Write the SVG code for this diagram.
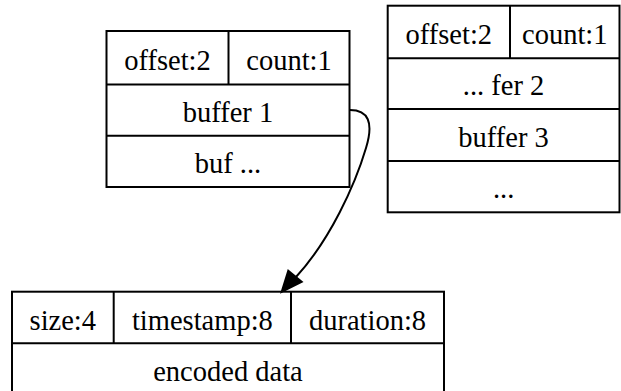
<svg xmlns="http://www.w3.org/2000/svg" width="621" height="391" viewBox="0 0 621 391">
<style>
.box{fill:#fff;stroke:#000;stroke-width:2}
.ln{stroke:#000;stroke-width:2;fill:none}
</style>
<rect width="621" height="391" fill="#fff"/>
<g id="node1">
<rect class="box" x="106.5" y="31" width="243" height="156"/>
<line class="ln" x1="106.5" y1="84.5" x2="349.5" y2="84.5"/>
<line class="ln" x1="106.5" y1="135.7" x2="349.5" y2="135.7"/>
<line class="ln" x1="228.5" y1="31" x2="228.5" y2="84.5"/>
<g font-family="Liberation Serif, Times New Roman, serif" font-size="28.5" fill="#000" text-anchor="middle">
<text x="167.5" y="69.8">offset:2</text>
<text x="289" y="69.8">count:1</text>
<text x="228" y="121.6">buffer 1</text>
<text x="228" y="172.8">buf ...</text>
</g>
</g>
<g id="node2">
<rect class="box" x="387.7" y="5.7" width="231.8" height="206.6"/>
<line class="ln" x1="387.7" y1="58.3" x2="619.5" y2="58.3"/>
<line class="ln" x1="387.7" y1="109" x2="619.5" y2="109"/>
<line class="ln" x1="387.7" y1="161" x2="619.5" y2="161"/>
<line class="ln" x1="510" y1="5.7" x2="510" y2="58.3"/>
<g font-family="Liberation Serif, Times New Roman, serif" font-size="28.5" fill="#000" text-anchor="middle">
<text x="448.8" y="43.5">offset:2</text>
<text x="564.8" y="43.5">count:1</text>
<text x="503.6" y="95">... fer 2</text>
<text x="503.6" y="146.5">buffer 3</text>
<text x="503.6" y="198">...</text>
</g>
</g>
<g id="node3">
<rect class="box" x="12" y="291.7" width="432" height="104"/>
<line class="ln" x1="12" y1="343.3" x2="444" y2="343.3"/>
<line class="ln" x1="113.7" y1="291.7" x2="113.7" y2="343.3"/>
<line class="ln" x1="291" y1="291.7" x2="291" y2="343.3"/>
<g font-family="Liberation Serif, Times New Roman, serif" font-size="28.5" fill="#000" text-anchor="middle">
<text x="62.8" y="330">size:4</text>
<text x="202.4" y="330">timestamp:8</text>
<text x="367.5" y="330">duration:8</text>
<text x="228" y="380.5">encoded data</text>
</g>
</g>
<g id="edges">
<path class="ln" d="M350,110 C368,110 374,122 366,148 C355,185 330,240 296,277"/>
<polygon points="288.3,270.7 301.7,281.7 281.7,291.7" fill="#000" stroke="#000" stroke-width="2"/>
</g>
</svg>
